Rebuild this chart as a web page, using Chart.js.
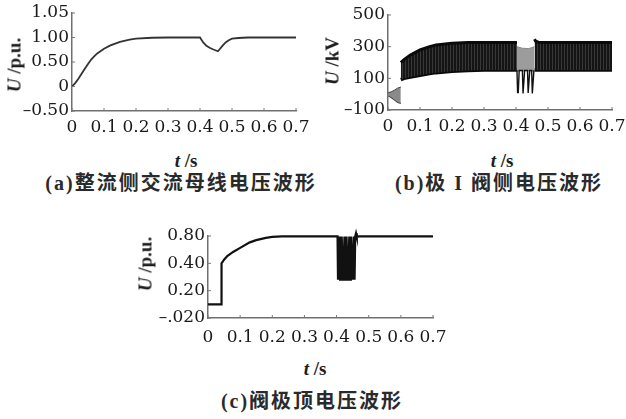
<!DOCTYPE html>
<html><head><meta charset="utf-8">
<script src="https://cdn.jsdelivr.net/npm/chart.js@4"></script>
<style>
body{margin:0;background:#fff;width:626px;height:419px;overflow:hidden;position:relative;font-family:"Liberation Serif",serif;color:#1c1c1c}
canvas{position:absolute}
.t{position:absolute;white-space:nowrap;font-size:19px;font-weight:bold;transform:translate(-50%,-50%);line-height:1}
.rot{transform:translate(-50%,-50%) rotate(-90deg)}
.cap{position:absolute;white-space:nowrap;font-size:20px;font-weight:bold;font-family:"Liberation Serif","Noto Sans CJK SC",serif;transform:translate(-50%,-50%);letter-spacing:2px;line-height:1;color:#2a2a2a}
</style></head>
<body>
<canvas id="ca" width="310" height="145" style="left:0;top:0"></canvas>
<canvas id="cb" width="313" height="145" style="left:313px;top:0"></canvas>
<canvas id="cc" width="320" height="130" style="left:130px;top:220px"></canvas>

<div class="t rot" style="left:14px;top:65px"><i>U</i> /p.u.</div>
<div class="t" style="left:186px;top:160px"><i>t</i> /s</div>
<div class="cap" style="left:181px;top:183px">(a)整流侧交流母线电压波形</div>

<div class="t rot" style="left:332px;top:61px"><i>U</i> /kV</div>
<div class="t" style="left:502px;top:160px"><i>t</i> /s</div>
<div class="cap" style="left:499px;top:183px">(b)极 I 阀侧电压波形</div>

<div class="t rot" style="left:145px;top:264px"><i>U</i> /p.u.</div>
<div class="t" style="left:315px;top:368px"><i>t</i> /s</div>
<div class="cap" style="left:312px;top:401px">(c)阀极顶电压波形</div>

<script>
// ---- shared x axis (time, s) ----
const tTicks = [0, 0.1, 0.2, 0.3, 0.4, 0.5, 0.6, 0.7];
const tTickLabels = ['0', '0.1', '0.2', '0.3', '0.4', '0.5', '0.6', '0.7'];

// ---- (a) rectifier-side AC bus voltage ----
const yTicksA = [-0.5, 0, 0.5, 1.0, 1.5];
const yLabelsA = ['\u20130.50', '0', '0.50', '1.00', '1.05'];
const tA = [0, 0.01, 0.02, 0.03, 0.04, 0.05, 0.06, 0.07, 0.08, 0.1, 0.12, 0.15, 0.18, 0.2, 0.25, 0.3, 0.4, 0.405, 0.41, 0.42, 0.43, 0.44, 0.45, 0.456, 0.46, 0.47, 0.48, 0.49, 0.5, 0.52, 0.55, 0.6, 0.7];
const uA = [0, 0.07, 0.16, 0.26, 0.36, 0.46, 0.55, 0.62, 0.68, 0.77, 0.84, 0.91, 0.955, 0.975, 0.995, 1.0, 1.0, 0.95, 0.9, 0.83, 0.79, 0.76, 0.735, 0.72, 0.75, 0.83, 0.9, 0.945, 0.975, 0.99, 1.0, 1.0, 1.0];

// ---- (b) pole I valve-side voltage (envelopes of the dense waveform) ----
const yTicksB = [-100, 100, 300, 500];
const yLabelsB = ['\u2013100', '100', '300', '500'];
const tBPre = [0, 0.01, 0.02, 0.03, 0.04];
const upBPre = [8, 15, 25, 38, 45];
const loBPre = [-8, -20, -35, -50, -58];
const tBMain = [0.04, 0.05, 0.07, 0.1, 0.13, 0.15, 0.2, 0.25, 0.3, 0.35, 0.403];
const upBMain = [200, 218, 248, 280, 300, 310, 322, 326, 327, 327, 327];
const loBMain = [92, 100, 108, 120, 130, 136, 145, 150, 152, 152, 152];
const tBFault = [0.403, 0.42, 0.44, 0.458];
const upBFault = [300, 290, 288, 300];
const loBFault = [150, 150, 150, 150];
const tBPost = [0.458, 0.461, 0.47, 0.5, 0.6, 0.7];
const upBPost = [348, 335, 328, 327, 327, 327];
const loBPost = [152, 152, 152, 152, 152, 152];
const tBSpike = [0.403, 0.405, 0.407, 0.41, 0.42, 0.422, 0.424, 0.427, 0.436, 0.438, 0.44, 0.443, 0.449, 0.451, 0.453, 0.456];
const uBSpike = [150, 10, 10, 150, 150, 5, 5, 150, 150, 8, 8, 150, 150, 5, 5, 150];

// ---- (c) valve top voltage ----
const yTicksC = [-0.1, 0.2, 0.5, 0.8];
const yLabelsC = ['\u2013.020', '0.20', '0.40', '0.80'];
const tC = [0, 0.042, 0.0421, 0.05, 0.06, 0.078, 0.1, 0.13, 0.15, 0.18, 0.2, 0.23, 0.3, 0.403,
  0.4045, 0.406, 0.4095, 0.411, 0.4145, 0.416, 0.4195, 0.421, 0.4245, 0.426, 0.4295, 0.431, 0.4345, 0.436, 0.4395, 0.441, 0.4445, 0.446, 0.4495, 0.451, 0.4545, 0.456,
  0.458, 0.4605, 0.463, 0.47, 0.5, 0.6, 0.7];
const uC = [0.05, 0.05, 0.50, 0.54, 0.58, 0.625, 0.67, 0.73, 0.755, 0.78, 0.79, 0.795, 0.795, 0.795,
  0.32, 0.32, 0.795, 0.32, 0.32, 0.795, 0.32, 0.32, 0.795, 0.32, 0.32, 0.795, 0.32, 0.32, 0.795, 0.32, 0.32, 0.795, 0.32, 0.32, 0.795, 0.32,
  0.795, 0.83, 0.79, 0.795, 0.795, 0.795, 0.795];

const pts = (ts, vs) => ts.map((t, i) => ({x: t, y: vs[i]}));

const inTicks = {
  id: 'inTicks',
  afterDraw(chart) {
    const {ctx, chartArea: a, scales: {x, y}} = chart;
    ctx.save();
    ctx.strokeStyle = '#777';
    ctx.lineWidth = 1;
    ctx.beginPath();
    x.ticks.forEach((t, i) => { const p = x.getPixelForTick(i); ctx.moveTo(p, a.bottom); ctx.lineTo(p, a.bottom - 3); });
    y.ticks.forEach((t, i) => { const p = y.getPixelForTick(i); ctx.moveTo(a.left, p); ctx.lineTo(a.left + 3, p); });
    ctx.stroke();
    ctx.restore();
  }
};

const tickFont = {family: '"DejaVu Serif", serif', size: 17};

function makeChart(id, datasets, yMin, yMax, yTicks, yLabels, geo) {
  return new Chart(document.getElementById(id), {
    type: 'line',
    data: {datasets},
    plugins: [inTicks],
    options: {
      responsive: false,
      animation: false,
      devicePixelRatio: 1,
      layout: {padding: {left: 0, right: geo.right, top: geo.top, bottom: 0}},
      plugins: {legend: {display: false}, tooltip: {enabled: false}, title: {display: false}},
      elements: {point: {radius: 0}, line: {tension: 0}},
      scales: {
        x: {
          type: 'linear', min: 0, max: 0.7,
          afterBuildTicks: s => { s.ticks = tTicks.map(v => ({value: v})); },
          afterFit: s => { s.height = geo.xh; s.paddingLeft = 0; s.paddingRight = 0; },
          ticks: {autoSkip: false, maxRotation: 0, padding: geo.xpad, color: '#1a1a1a', font: tickFont,
                  callback: (v, i) => tTickLabels[i]},
          grid: {display: false, drawTicks: false},
          border: {display: true, color: '#707070', width: 1.5}
        },
        y: {
          type: 'linear', min: yMin, max: yMax,
          afterBuildTicks: s => { s.ticks = yTicks.map(v => ({value: v})); },
          afterFit: s => { s.width = geo.yw; s.paddingTop = 0; s.paddingBottom = 0; },
          ticks: {autoSkip: false, padding: 3, color: '#1a1a1a', font: tickFont,
                  callback: (v, i) => yLabels[i]},
          grid: {display: false, drawTicks: false},
          border: {display: true, color: '#707070', width: 1.5}
        }
      }
    }
  });
}

// (a)
makeChart('ca', [
  {data: pts(tA, uA), borderColor: '#333', borderWidth: 1.8, fill: false}
], -0.5, 1.5, yTicksA, yLabelsA, {right: 14, top: 13, xh: 34, yw: 72, xpad: 6});

// pattern for dense waveform band
const pc = document.createElement('canvas');
pc.width = 3; pc.height = 4;
const pctx = pc.getContext('2d');
pctx.fillStyle = '#141414'; pctx.fillRect(0, 0, 3, 4);
pctx.fillStyle = '#383838'; pctx.fillRect(2, 0, 1, 4);
const bandPattern = document.getElementById('cb').getContext('2d').createPattern(pc, 'repeat');

// (b)
makeChart('cb', [
  {data: pts(tBSpike, uBSpike), borderColor: '#111', borderWidth: 1.4, fill: false, order: 0},
  {data: pts(tBPre, upBPre), borderColor: '#444', borderWidth: 1, fill: '+1', backgroundColor: '#8a8a8a', order: 1},
  {data: pts(tBPre, loBPre), borderColor: '#333', borderWidth: 1.5, fill: false, order: 1},
  {data: pts(tBMain, upBMain), borderColor: '#0a0a0a', borderWidth: 3, fill: '+1', backgroundColor: bandPattern, order: 1},
  {data: pts(tBMain, loBMain), borderColor: '#0a0a0a', borderWidth: 3.5, fill: false, order: 1},
  {data: pts(tBFault, upBFault), borderColor: '#888', borderWidth: 1, fill: '+1', backgroundColor: '#9c9c9c', order: 1},
  {data: pts(tBFault, loBFault), borderColor: '#555', borderWidth: 2, fill: false, order: 1},
  {data: pts(tBPost, upBPost), borderColor: '#0a0a0a', borderWidth: 3, fill: '+1', backgroundColor: bandPattern, order: 1},
  {data: pts(tBPost, loBPost), borderColor: '#0a0a0a', borderWidth: 3.5, fill: false, order: 1}
], -100, 500, yTicksB, yLabelsB, {right: 14, top: 15, xh: 35, yw: 75, xpad: 6});

// (c)
makeChart('cc', [
  {data: pts(tC, uC), borderColor: '#111', borderWidth: 2.2, fill: false, clip: false}
], -0.1, 0.8, yTicksC, yLabelsC, {right: 17, top: 16, xh: 32, yw: 78, xpad: 9});
</script>
</body></html>
